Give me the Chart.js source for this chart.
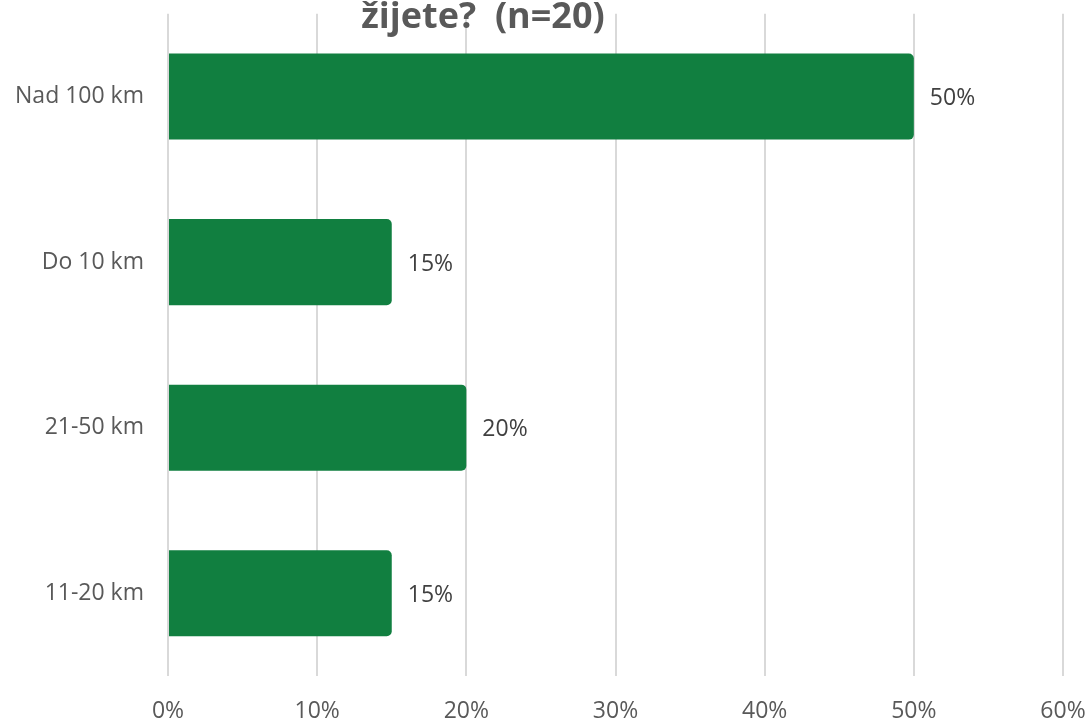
<!DOCTYPE html>
<html>
<head>
<meta charset="utf-8">
<script src="https://cdn.jsdelivr.net/npm/chart.js@4/dist/chart.umd.min.js"></script>
<style>
  html, body { margin: 0; padding: 0; background: #ffffff; overflow: hidden; }
  #wrap { position: relative; width: 1088px; height: 723px; }
</style>
</head>
<body>
<div id="wrap"><canvas id="c" width="1088" height="723"></canvas></div>
<script>
const titleText = 'žijete?  (n=20)';
const categories = ['Nad 100 km', 'Do 10 km', '21-50 km', '11-20 km'];
const values = [50, 15, 20, 15];
const tickValues = [0, 10, 20, 30, 40, 50, 60];

const FONT = '"Open Sans", "Noto Sans", sans-serif';

const titlePlugin = {
  id: 'cutTitle',
  afterDraw(chart) {
    const ctx = chart.ctx;
    ctx.save();
    ctx.font = 'bold 36px ' + FONT;
    ctx.fillStyle = '#595959';
    ctx.textAlign = 'center';
    ctx.textBaseline = 'alphabetic';
    ctx.fillText(titleText, 483, 28);
    ctx.restore();
  }
};

const labelPlugin = {
  id: 'valueLabels',
  afterDatasetsDraw(chart) {
    const ctx = chart.ctx;
    const meta = chart.getDatasetMeta(0);
    ctx.save();
    ctx.font = '23px ' + FONT;
    ctx.fillStyle = '#404040';
    ctx.textAlign = 'left';
    ctx.textBaseline = 'middle';
    meta.data.forEach((bar, i) => {
      ctx.fillText(values[i] + '%', bar.x + 16, bar.y + 2);
    });
    ctx.restore();
  }
};

new Chart(document.getElementById('c'), {
  type: 'bar',
  data: {
    labels: categories,
    datasets: [{
      data: values,
      backgroundColor: '#117f40',
      borderWidth: 0,
      borderRadius: { topRight: 5, bottomRight: 5, topLeft: 0, bottomLeft: 0 },
      borderSkipped: false,
      barPercentage: 0.52,
      categoryPercentage: 1.0
    }]
  },
  options: {
    indexAxis: 'y',
    responsive: false,
    animation: false,
    devicePixelRatio: 1,
    layout: { padding: { top: 0, right: 25, left: 0, bottom: 0 } },
    plugins: {
      legend: { display: false },
      title: { display: false },
      tooltip: { enabled: false }
    },
    scales: {
      x: {
        min: 0,
        max: 60,
        afterBuildTicks(scale) { scale.ticks = tickValues.map(v => ({ value: v })); },
        afterFit(scale) { scale.height = 47; scale.paddingRight = 0; scale.paddingLeft = 0; },
        grid: { color: '#d9d9d9', lineWidth: 2, drawTicks: false },
        border: { display: false },
        ticks: {
          padding: 22,
          color: '#595959',
          font: { size: 23, family: FONT },
          callback: v => v + '%'
        }
      },
      y: {
        afterFit(scale) { scale.width = 168; },
        grid: { display: true, drawOnChartArea: false, drawTicks: true, tickLength: 24, color: 'rgba(0,0,0,0)' },
        border: { display: false },
        ticks: {
          padding: 0,
          color: '#595959',
          font: { size: 23, family: FONT }
        }
      }
    }
  },
  plugins: [labelPlugin, titlePlugin]
});
</script>
</body>
</html>
